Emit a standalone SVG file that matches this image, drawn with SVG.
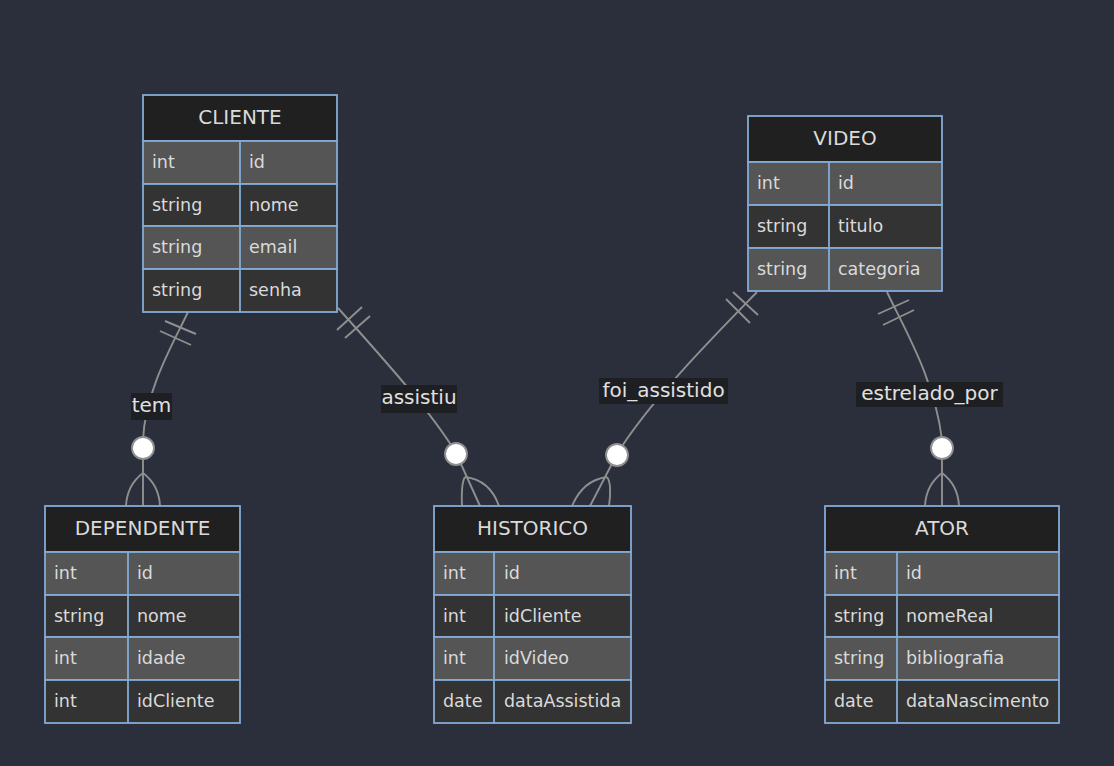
<svg xmlns="http://www.w3.org/2000/svg" width="1114" height="766" viewBox="0 0 1114 766">
<style>
.bg{fill:#2a2f3b}
.hdr{fill:#202020;stroke:#84abd6;stroke-width:1.8}
.odd{fill:#555555;stroke:#84abd6;stroke-width:1.8}
.even{fill:#333333;stroke:#84abd6;stroke-width:1.8}
.div{stroke:#84abd6;stroke-width:1.8}
.ht{font-family:"DejaVu Sans",sans-serif;font-size:20px;fill:#dadada;text-anchor:middle;dominant-baseline:central}
.at{font-family:"DejaVu Sans",sans-serif;font-size:17.5px;fill:#dadada;dominant-baseline:central}
.ln{fill:none;stroke:#8f8f8f;stroke-width:1.9}
.dot{fill:#ffffff;stroke:#8f8f8f;stroke-width:1.9}
.lbg{fill:#1e1f22}
.lt{font-family:"DejaVu Sans",sans-serif;font-size:20px;fill:#e0e0e0;text-anchor:middle;dominant-baseline:central}
</style>
<rect class="bg" x="0" y="0" width="1114" height="766"/>

<g id="connectors">
  <!-- tem -->
  <path class="ln" d="M188,312 C175,340 145,390 143,440 L143,506"/>
  <path class="ln" d="M165,321 L196,334 M160,331 L191,345"/>
  <path class="ln" d="M143,473 Q127,485 126,506 M143,473 Q159,485 160,506"/>
  <circle class="dot" cx="143" cy="448" r="11"/>
  <!-- assistiu -->
  <path class="ln" d="M338,308 C380,355 430,410 456,453 L480,506"/>
  <path class="ln" d="M337,330 L362,307 M345,338 L370,316"/>
  <path class="ln" d="M465,477 Q461,483 462,506 M465,477 Q490,480 499,506"/>
  <circle class="dot" cx="456" cy="454" r="11"/>
  <!-- foi_assistido -->
  <path class="ln" d="M757,292 C720,330 650,400 617,454 L590,506"/>
  <path class="ln" d="M733,292 L758,315 M726,299 L750,323"/>
  <path class="ln" d="M607,477 Q612,483 609,506 M607,477 Q583,480 572,506"/>
  <circle class="dot" cx="617" cy="455" r="11"/>
  <!-- estrelado_por -->
  <path class="ln" d="M887,292 C905,330 935,380 942,440 L942,506"/>
  <path class="ln" d="M878,314 L909,300 M883,325 L914,310"/>
  <path class="ln" d="M942,473 Q926,485 925,506 M942,473 Q958,485 959,506"/>
  <circle class="dot" cx="942" cy="448" r="11"/>
  <!-- labels -->
  <rect class="lbg" x="131" y="393" width="41" height="27"/>
  <text class="lt" x="151.5" y="405">tem</text>
  <rect class="lbg" x="381" y="385" width="76" height="28"/>
  <text class="lt" x="419" y="397">assistiu</text>
  <rect class="lbg" x="599" y="378" width="129" height="26"/>
  <text class="lt" x="663.5" y="389.5">foi_assistido</text>
  <rect class="lbg" x="856" y="382" width="147" height="25"/>
  <text class="lt" x="929.5" y="393">estrelado_por</text>
</g>

<g id="CLIENTE">
  <rect class="hdr" x="143" y="95" width="194" height="46"/>
  <text class="ht" x="240" y="117">CLIENTE</text>
  <rect class="odd" x="143" y="141" width="194" height="43"/>
  <rect class="even" x="143" y="184" width="194" height="42"/>
  <rect class="odd" x="143" y="226" width="194" height="43"/>
  <rect class="even" x="143" y="269" width="194" height="43"/>
  <line class="div" x1="240" y1="141" x2="240" y2="312"/>
  <text class="at" x="152" y="162">int</text><text class="at" x="249" y="162">id</text>
  <text class="at" x="152" y="205">string</text><text class="at" x="249" y="205">nome</text>
  <text class="at" x="152" y="247">string</text><text class="at" x="249" y="247">email</text>
  <text class="at" x="152" y="290">string</text><text class="at" x="249" y="290">senha</text>
</g>

<g id="VIDEO">
  <rect class="hdr" x="748" y="116" width="194" height="46"/>
  <text class="ht" x="845" y="138">VIDEO</text>
  <rect class="odd" x="748" y="162" width="194" height="43"/>
  <rect class="even" x="748" y="205" width="194" height="43"/>
  <rect class="odd" x="748" y="248" width="194" height="43"/>
  <line class="div" x1="829" y1="162" x2="829" y2="291"/>
  <text class="at" x="757" y="183">int</text><text class="at" x="838" y="183">id</text>
  <text class="at" x="757" y="226">string</text><text class="at" x="838" y="226">titulo</text>
  <text class="at" x="757" y="269">string</text><text class="at" x="838" y="269">categoria</text>
</g>

<g id="DEPENDENTE">
  <rect class="hdr" x="45" y="506" width="195" height="46"/>
  <text class="ht" x="142.5" y="528">DEPENDENTE</text>
  <rect class="odd" x="45" y="552" width="195" height="43"/>
  <rect class="even" x="45" y="595" width="195" height="42"/>
  <rect class="odd" x="45" y="637" width="195" height="43"/>
  <rect class="even" x="45" y="680" width="195" height="43"/>
  <line class="div" x1="128" y1="552" x2="128" y2="723"/>
  <text class="at" x="54" y="573">int</text><text class="at" x="137" y="573">id</text>
  <text class="at" x="54" y="616">string</text><text class="at" x="137" y="616">nome</text>
  <text class="at" x="54" y="658">int</text><text class="at" x="137" y="658">idade</text>
  <text class="at" x="54" y="701">int</text><text class="at" x="137" y="701">idCliente</text>
</g>

<g id="HISTORICO">
  <rect class="hdr" x="434" y="506" width="197" height="46"/>
  <text class="ht" x="532.5" y="528">HISTORICO</text>
  <rect class="odd" x="434" y="552" width="197" height="43"/>
  <rect class="even" x="434" y="595" width="197" height="42"/>
  <rect class="odd" x="434" y="637" width="197" height="43"/>
  <rect class="even" x="434" y="680" width="197" height="43"/>
  <line class="div" x1="494" y1="552" x2="494" y2="723"/>
  <text class="at" x="443" y="573">int</text><text class="at" x="504" y="573">id</text>
  <text class="at" x="443" y="616">int</text><text class="at" x="504" y="616">idCliente</text>
  <text class="at" x="443" y="658">int</text><text class="at" x="504" y="658">idVideo</text>
  <text class="at" x="443" y="701">date</text><text class="at" x="504" y="701">dataAssistida</text>
</g>

<g id="ATOR">
  <rect class="hdr" x="825" y="506" width="234" height="46"/>
  <text class="ht" x="942" y="528">ATOR</text>
  <rect class="odd" x="825" y="552" width="234" height="43"/>
  <rect class="even" x="825" y="595" width="234" height="42"/>
  <rect class="odd" x="825" y="637" width="234" height="43"/>
  <rect class="even" x="825" y="680" width="234" height="43"/>
  <line class="div" x1="897" y1="552" x2="897" y2="723"/>
  <text class="at" x="834" y="573">int</text><text class="at" x="906" y="573">id</text>
  <text class="at" x="834" y="616">string</text><text class="at" x="906" y="616">nomeReal</text>
  <text class="at" x="834" y="658">string</text><text class="at" x="906" y="658">bibliografia</text>
  <text class="at" x="834" y="701">date</text><text class="at" x="906" y="701">dataNascimento</text>
</g>
</svg>
